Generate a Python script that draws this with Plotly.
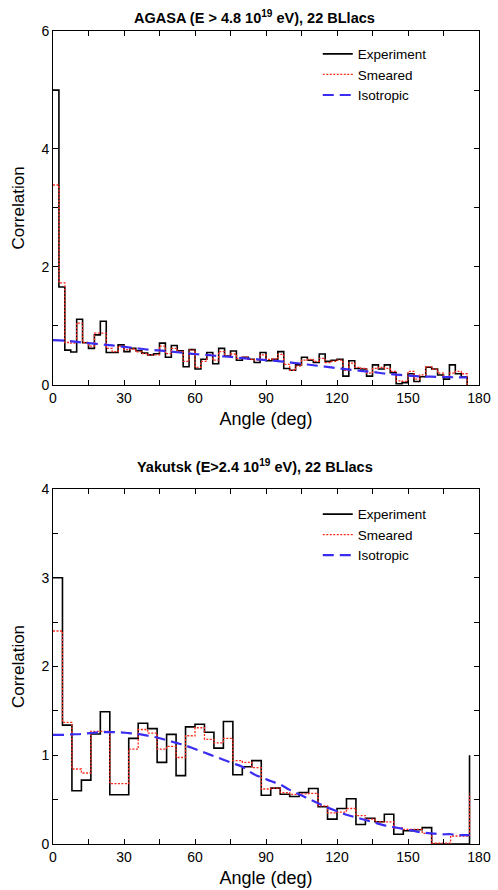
import plotly.graph_objects as go

# ---------------- data ----------------
# AGASA panel: bin starts every 2.5 deg (0 .. 175)
agasa_bin = 2.5
agasa_experiment = [
    5.0, 1.66, 0.59, 0.56, 1.115, 0.715, 0.62, 0.85, 1.08, 0.55,
    0.55, 0.68, 0.565, 0.62, 0.58, 0.54, 0.51, 0.53, 0.71, 0.47,
    0.67, 0.58, 0.31, 0.60, 0.27, 0.435, 0.55, 0.36, 0.62, 0.49,
    0.576, 0.42, 0.47, 0.435, 0.38, 0.55, 0.41, 0.435, 0.565, 0.28,
    0.25, 0.34, 0.47, 0.42, 0.38, 0.525, 0.40, 0.42, 0.435, 0.15,
    0.41, 0.28, 0.27, 0.15, 0.34, 0.27, 0.34, 0.21, 0.02, 0.04,
    0.19, 0.06, 0.14, 0.30, 0.27, 0.17, 0.10, 0.34, 0.19, 0.14,
    0.0,
]
agasa_smeared = [
    3.39, 1.73, 0.72, 0.71, 1.05, 0.72, 0.66, 0.88, 0.88, 0.62,
    0.565, 0.66, 0.60, 0.61, 0.56, 0.53, 0.51, 0.51, 0.66, 0.53,
    0.62, 0.57, 0.40, 0.59, 0.30, 0.40, 0.51, 0.42, 0.565, 0.49,
    0.525, 0.45, 0.47, 0.435, 0.42, 0.51, 0.435, 0.44, 0.52, 0.35,
    0.25, 0.32, 0.42, 0.435, 0.40, 0.45, 0.38, 0.40, 0.42, 0.25,
    0.37, 0.30, 0.28, 0.20, 0.28, 0.30, 0.28, 0.23, 0.07, 0.06,
    0.23, 0.10, 0.17, 0.31, 0.27, 0.20, 0.14, 0.20, 0.23, 0.19,
    0.0,
]
agasa_iso_angle = [0, 5, 10, 15, 20, 25, 30, 35, 40, 45, 50, 55, 60, 65, 70,
                   75, 80, 85, 90, 95, 100, 105, 110, 115, 120, 125, 130, 135,
                   140, 145, 150, 155, 160, 165, 170, 175]
agasa_isotropic = [0.76, 0.75, 0.73, 0.71, 0.69, 0.67, 0.645, 0.625, 0.60, 0.585,
                   0.565, 0.545, 0.525, 0.51, 0.49, 0.475, 0.455, 0.44, 0.42, 0.405,
                   0.385, 0.36, 0.335, 0.31, 0.285, 0.26, 0.24, 0.22, 0.195, 0.175,
                   0.16, 0.145, 0.14, 0.135, 0.13, 0.13]

# Yakutsk panel: bin starts every 4 deg (0 .. 176)
yak_bin = 4
yak_experiment = [
    3.0, 1.34, 0.60, 0.72, 1.24, 1.49, 0.555, 0.555, 1.19, 1.36,
    1.30, 0.92, 1.235, 0.77, 1.32, 1.35, 1.26, 1.08, 1.38, 0.78,
    0.87, 0.94, 0.55, 0.63, 0.56, 0.535, 0.58, 0.625, 0.42, 0.28,
    0.40, 0.51, 0.22, 0.29, 0.25, 0.335, 0.11, 0.15, 0.16, 0.185,
    0.0, 0.0, 0.0, 0.0, 1.0,
]
yak_smeared = [
    2.40, 1.37, 0.845, 0.80, 1.27, 1.27, 0.68, 0.68, 1.07, 1.29,
    1.25, 1.07, 1.10, 0.975, 1.22, 1.31, 1.18, 1.14, 1.19, 0.94,
    0.92, 0.86, 0.62, 0.63, 0.58, 0.56, 0.565, 0.57, 0.43, 0.35,
    0.36, 0.40, 0.32, 0.28, 0.25, 0.25, 0.18, 0.165, 0.165, 0.12,
    0.01, 0.01, 0.09, 0.09, 0.57,
]
yak_isotropic = [
    1.23, 1.23, 1.235, 1.24, 1.25, 1.26, 1.26, 1.26, 1.25, 1.24,
    1.22, 1.20, 1.17, 1.14, 1.11, 1.07, 1.03, 0.99, 0.95, 0.91,
    0.87, 0.80, 0.75, 0.71, 0.67, 0.61, 0.56, 0.51, 0.46, 0.41,
    0.37, 0.33, 0.30, 0.27, 0.24, 0.21, 0.19, 0.17, 0.15, 0.13,
    0.12, 0.11, 0.11, 0.10, 0.10,
]

agasa_angle = [i * agasa_bin for i in range(len(agasa_experiment))]
yak_angle = [i * yak_bin for i in range(len(yak_experiment))]

titles = ["AGASA (E > 4.8 10<sup>19</sup> eV), 22 BLlacs",
          "Yakutsk (E>2.4 10<sup>19</sup> eV), 22 BLlacs"]

# ---------------- styling ----------------
FONT = "Liberation Sans, Arial, Helvetica, sans-serif"
BLACK = "#000000"
RED = "#ff2a1a"
BLUE = "#3a2cf0"

fig = go.Figure()

def add_panel(angle, exp, sm, iso_x, iso, xa, ya, legend):
    fig.add_trace(go.Scatter(x=angle, y=exp, mode="lines", name="Experiment",
                             line=dict(color=BLACK, width=1.6, shape="hv"),
                             xaxis=xa, yaxis=ya, legend=legend))
    fig.add_trace(go.Scatter(x=angle, y=sm, mode="lines", name="Smeared",
                             line=dict(color=RED, width=1.3, shape="hv", dash="2px,1.5px"),
                             xaxis=xa, yaxis=ya, legend=legend))
    fig.add_trace(go.Scatter(x=iso_x, y=iso, mode="lines", name="Isotropic",
                             line=dict(color=BLUE, width=2.2, shape="spline", dash="11px,6px"),
                             xaxis=xa, yaxis=ya, legend=legend))

add_panel(agasa_angle, agasa_experiment, agasa_smeared, agasa_iso_angle, agasa_isotropic,
          "x", "y", "legend")
add_panel(yak_angle, yak_experiment, yak_smeared, yak_angle, yak_isotropic,
          "x2", "y2", "legend2")

axis_common = dict(showline=True, linecolor=BLACK, linewidth=1, mirror="allticks",
                   ticks="inside", ticklen=5, tickcolor=BLACK, tickwidth=1,
                   showgrid=False, zeroline=False, automargin=False,
                   tickfont=dict(family=FONT, size=14, color=BLACK))

xcommon = dict(axis_common, range=[0, 180], tick0=0, dtick=30,
               minor=dict(dtick=15, ticks="inside", ticklen=5, tickcolor=BLACK, showgrid=False),
               title=dict(text="Angle (deg)", font=dict(family=FONT, size=18, color=BLACK),
                          standoff=7))

ycommon_title = dict(text="Correlation", font=dict(family=FONT, size=17, color=BLACK),
                     standoff=12)

top_dom = [0.5646, 1.0]
bot_dom = [0.0, 0.4366]

legend_style = dict(xanchor="left", yanchor="top", bgcolor="rgba(0,0,0,0)",
                    font=dict(family=FONT, size=13.5, color=BLACK),
                    tracegroupgap=0, itemwidth=30)

fig.update_layout(
    width=498, height=890,
    margin=dict(l=53, r=19, t=31, b=46),
    paper_bgcolor="white", plot_bgcolor="white",
    font=dict(family=FONT, color=BLACK),
    xaxis=dict(xcommon, domain=[0, 1], anchor="y"),
    xaxis2=dict(xcommon, domain=[0, 1], anchor="y2"),
    yaxis=dict(axis_common, domain=top_dom, anchor="x", range=[0, 6], tick0=0, dtick=2,
               minor=dict(dtick=1, ticks="inside", ticklen=5, tickcolor=BLACK, showgrid=False),
               title=ycommon_title),
    yaxis2=dict(axis_common, domain=bot_dom, anchor="x2", range=[0, 4], tick0=0, dtick=1,
                minor=dict(dtick=0.5, ticks="inside", ticklen=5, tickcolor=BLACK, showgrid=False),
                title=ycommon_title),
    legend=dict(legend_style, x=0.6215, y=0.9906),
    legend2=dict(legend_style, x=0.6215, y=0.4246),
    annotations=[
        dict(text="<b>" + titles[0] + "</b>", xref="paper", yref="paper",
             x=0.474, y=1.0, yshift=14, xanchor="center", yanchor="middle", showarrow=False,
             font=dict(family=FONT, size=14.5, color=BLACK)),
        dict(text="<b>" + titles[1] + "</b>", xref="paper", yref="paper",
             x=0.474, y=bot_dom[1], yshift=23, xanchor="center", yanchor="middle", showarrow=False,
             font=dict(family=FONT, size=14.5, color=BLACK)),
    ],
)

fig.write_html("out.html",
               config={"displayModeBar": False},
               post_script="document.body.style.margin='0';document.body.style.padding='0';")
